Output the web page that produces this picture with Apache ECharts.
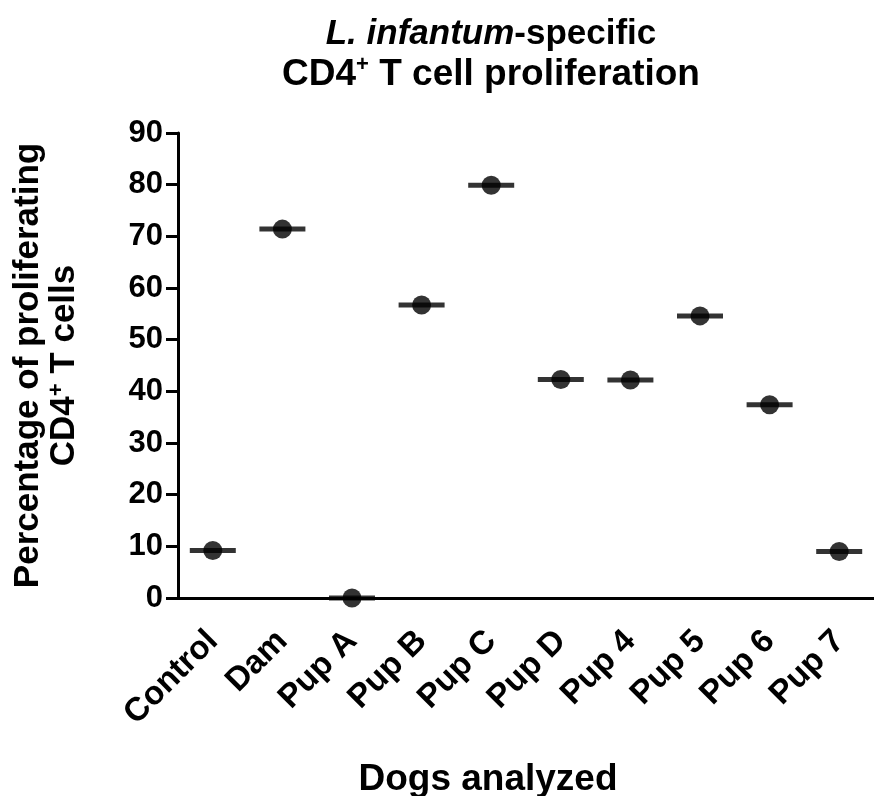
<!DOCTYPE html>
<html>
<head>
<meta charset="utf-8">
<script src="https://cdn.jsdelivr.net/npm/echarts@6/dist/echarts.min.js"></script>
<style>html,body{margin:0;padding:0;background:#fff}#c{width:874px;height:796px}</style>
</head>
<body>
<div id="c"></div>
<script>
const categories = ['Control','Dam','Pup A','Pup B','Pup C','Pup D','Pup 4','Pup 5','Pup 6','Pup 7'];
const values = [9.2, 71.4, 0, 56.7, 79.9, 42.3, 42.2, 54.6, 37.4, 9.0];
const yTicks = {min: 0, max: 90, interval: 10};

const FONT = 'Liberation Sans, Arial, sans-serif';
const chart = echarts.init(document.getElementById('c'), null, {renderer: 'canvas'});
chart.setOption({
  backgroundColor: '#fff',
  animation: false,
  title: [{
    text: '{i|L. infantum}{b|-specific}\n{c|CD4}{s|+}{c| T cell proliferation}',
    left: 491, top: 14, padding: 0, textAlign: 'center',
    textStyle: {
      rich: {
        i: {fontFamily: FONT, fontWeight: 'bold', fontStyle: 'italic', fontSize: 35, color: '#000', lineHeight: 40},
        b: {fontFamily: FONT, fontWeight: 'bold', fontSize: 35, color: '#000', lineHeight: 40},
        c: {fontFamily: FONT, fontWeight: 'bold', fontSize: 37, color: '#000', lineHeight: 42},
        s: {fontFamily: FONT, fontWeight: 'bold', fontSize: 22, color: '#000', lineHeight: 42, verticalAlign: 'top', padding: [0,0,14,0]}
      }
    }
  }, {
    text: 'Dogs analyzed',
    left: 488, top: 761, padding: 0, textAlign: 'center',
    textStyle: {fontFamily: FONT, fontWeight: 'bold', fontSize: 37, color: '#000'}
  }],
  grid: {left: 178, right: -3, top: 133, bottom: 198, containLabel: false},
  xAxis: {
    type: 'category',
    data: categories,
    boundaryGap: true,
    axisLine: {lineStyle: {color: '#000', width: 3}},
    axisTick: {alignWithLabel: true, length: 13, lineStyle: {color: '#000', width: 3}},
    axisLabel: {rotate: 45, interval: 0, margin: 38, color: '#000', fontFamily: FONT, fontWeight: 'bold', fontSize: 33},
    splitLine: {show: false}
  },
  yAxis: {
    type: 'value',
    min: yTicks.min, max: yTicks.max, interval: yTicks.interval,
    axisLine: {show: true, lineStyle: {color: '#000', width: 3}},
    axisTick: {show: true, length: 12, lineStyle: {color: '#000', width: 3}},
    axisLabel: {margin: 15, color: '#000', fontFamily: FONT, fontWeight: 'bold', fontSize: 31},
    splitLine: {show: false},
    name: '{b|Percentage of proliferating}\n{b|CD4}{s|+}{b| T cells}',
    nameLocation: 'middle',
    nameRotate: 90,
    nameGap: 96,
    nameTextStyle: {
      rich: {
        b: {fontFamily: FONT, fontWeight: 'bold', fontSize: 35, color: '#000', lineHeight: 36},
        s: {fontFamily: FONT, fontWeight: 'bold', fontSize: 22, color: '#000', lineHeight: 36, verticalAlign: 'top', padding: [0,0,14,0]}
      }
    }
  },
  series: [{
    type: 'scatter',
    data: values,
    symbol: 'rect',
    symbolSize: [46, 5],
    itemStyle: {color: '#000'},
    clip: false,
    silent: true,
    z: 3
  }, {
    type: 'scatter',
    data: values,
    symbol: 'circle',
    symbolSize: 19,
    itemStyle: {color: '#000'},
    clip: false,
    silent: true,
    z: 4
  }]
});
</script>
</body>
</html>
